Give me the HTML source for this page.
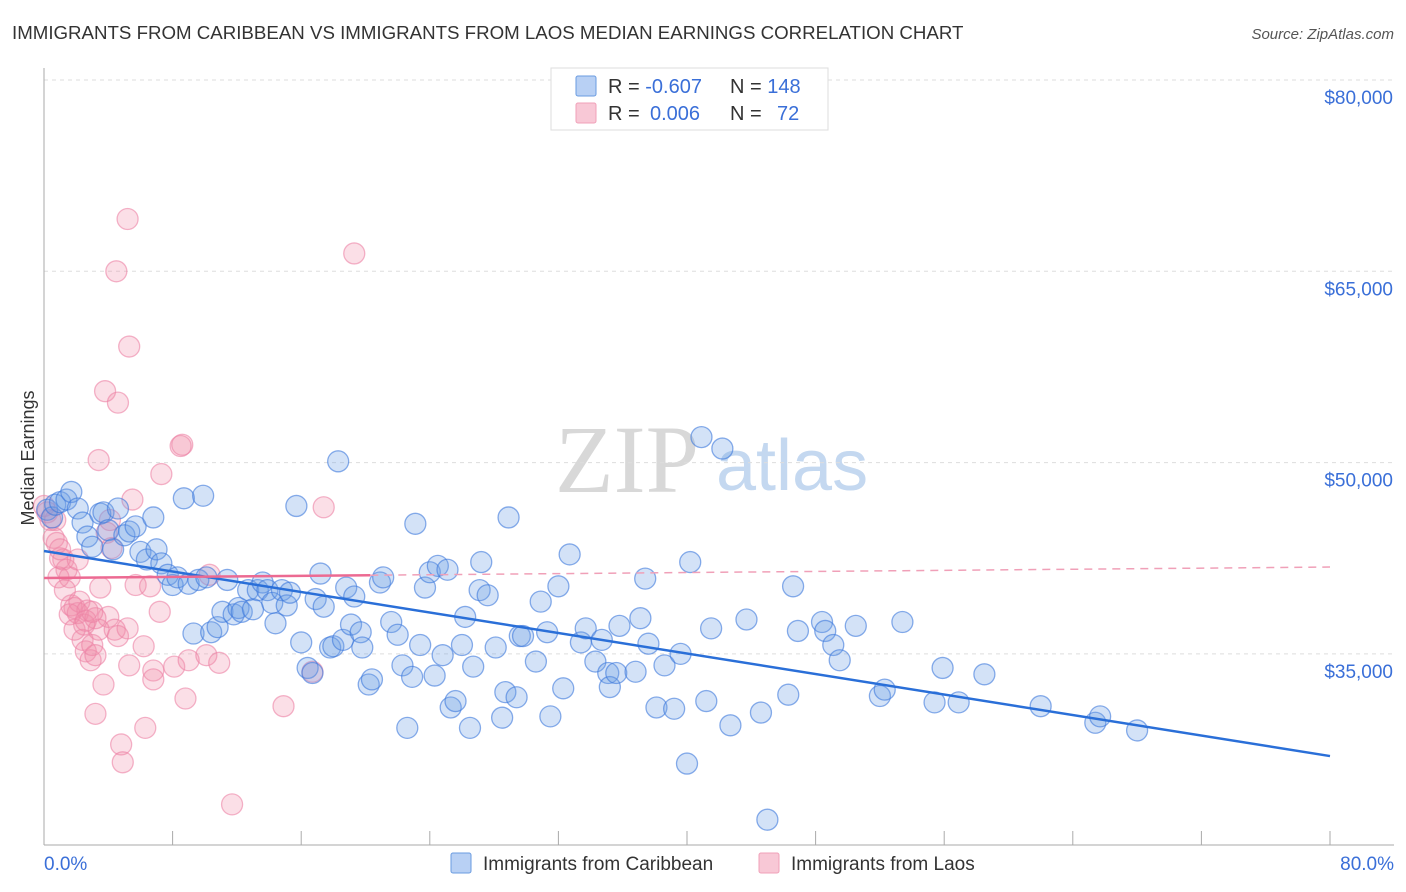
<!DOCTYPE html>
<html><head><meta charset="utf-8"><style>
body{margin:0;background:#fff;font-family:"Liberation Sans",sans-serif;}
svg{display:block}
</style></head><body>
<svg id="chart" width="1406" height="892">
<text x="12" y="39" font-size="18.7" fill="#333">IMMIGRANTS FROM CARIBBEAN VS IMMIGRANTS FROM LAOS MEDIAN EARNINGS CORRELATION CHART</text>
<text x="1394" y="39" font-size="15" fill="#555" font-style="italic" text-anchor="end">Source: ZipAtlas.com</text>
<text x="34" y="458" font-size="18" fill="#333" text-anchor="middle" transform="rotate(-90 34 458)">Median Earnings</text>
<g>
<text x="555" y="492" font-size="96" font-family="Liberation Serif,serif" fill="#d8d8d8">ZIP</text>
<text x="716" y="490" font-size="72" fill="#c4d8f0">atlas</text>
</g>
<g id="grid"></g>
<g id="pts"></g>
<g id="lines"></g>
<g>
<rect x="551" y="68" width="277" height="62" fill="#fff" stroke="#ddd"/>
<rect x="576" y="76" width="20" height="20" fill="#b8d0f4" stroke="#6a9be0" rx="2"/>
<rect x="576" y="103" width="20" height="20" fill="#f8c8d6" stroke="#f0a0b8" rx="2"/>
<text x="608" y="93" font-size="20" fill="#333">R = <tspan fill="#3a6fd8">-0.607</tspan><tspan x="730">N = </tspan><tspan fill="#3a6fd8">148</tspan></text>
<text x="608" y="120" font-size="20" fill="#333">R = <tspan x="650" fill="#3a6fd8">0.006</tspan><tspan x="730">N = </tspan><tspan x="777" fill="#3a6fd8">72</tspan></text>
</g>
<g>
<rect x="451" y="853" width="20" height="20" fill="#b8d0f4" stroke="#6a9be0" rx="2"/>
<text x="483" y="870" font-size="19" fill="#333">Immigrants from Caribbean</text>
<rect x="759" y="853" width="20" height="20" fill="#f8c8d6" stroke="#f0a0b8" rx="2"/>
<text x="791" y="870" font-size="19" fill="#333">Immigrants from Laos</text>
</g>
</svg>
<script>
const yTicks=[80000,65000,50000,35000];
const yTickLabels=["$80,000","$65,000","$50,000","$35,000"];
const xTickLabels=["0.0%","80.0%"];
const blueX=[0.2,0.5,0.7,1.0,1.4,1.7,2.1,2.4,2.7,3.0,3.5,3.7,4.0,4.3,4.6,5.0,5.3,5.7,6.0,6.4,6.8,7.0,7.3,7.7,8.0,8.3,8.7,9.0,9.3,9.6,9.9,10.1,10.4,10.8,11.1,11.4,11.8,12.1,12.3,12.7,13.0,13.3,13.6,13.9,14.2,14.4,14.8,15.1,15.3,15.7,16.0,16.4,16.7,16.9,17.2,17.4,17.8,18.0,18.3,18.6,18.8,19.1,19.3,19.7,19.8,20.2,20.4,20.9,21.1,21.6,22.0,22.3,22.6,22.9,23.1,23.4,23.7,24.0,24.3,24.5,24.8,25.1,25.3,25.6,26.0,26.2,26.5,26.7,27.1,27.2,27.6,28.1,28.5,28.7,28.9,29.4,29.6,29.8,30.6,30.9,31.3,31.5,32.0,32.3,32.7,33.4,33.7,34.3,34.7,35.1,35.2,35.6,35.8,36.8,37.1,37.4,37.6,38.1,38.6,39.2,39.6,40.0,40.2,40.9,41.2,41.5,42.2,42.7,43.7,44.6,45.0,46.3,46.6,46.9,48.4,48.6,49.1,49.5,50.5,52.0,52.3,53.4,55.4,55.9,56.9,58.5,62.0,65.4,65.7,68.0];
const blueY=[46.3,45.7,46.7,46.9,47.1,47.7,46.4,45.3,44.2,43.4,46.0,46.1,44.7,43.2,46.4,44.3,44.6,45.0,43.0,42.4,45.7,43.2,42.1,41.2,40.4,41.0,47.2,40.5,36.6,40.8,47.4,41.0,36.7,37.1,38.3,40.8,38.1,38.6,38.3,40.0,38.5,40.0,40.6,40.0,39.0,37.4,40.0,38.8,39.8,46.6,35.9,33.9,33.5,39.3,41.3,38.7,35.5,35.6,50.1,36.1,40.2,37.3,39.5,36.7,35.5,32.6,33.0,40.6,41.0,37.5,36.5,34.1,29.2,33.2,45.2,35.7,40.2,41.4,33.3,41.9,34.9,41.6,30.8,31.3,35.7,37.9,29.2,34.0,40.0,42.2,39.6,35.5,30.0,32.0,45.7,31.6,36.4,36.4,34.4,39.1,36.7,30.1,40.3,32.3,42.8,35.9,37.0,34.4,36.1,33.5,32.4,33.5,37.2,33.6,37.8,40.9,35.8,30.8,34.1,30.7,35.0,26.4,42.2,52.0,31.3,37.0,51.1,29.4,37.7,30.4,22.0,31.8,40.3,36.8,37.5,36.8,35.7,34.5,37.2,31.7,32.2,37.5,31.2,33.9,31.2,33.4,30.9,29.6,30.1,29.0];
const pinkX=[0.0,0.2,0.4,0.6,0.8,1.0,1.2,1.4,1.6,1.7,1.9,2.1,2.2,2.4,2.5,2.6,2.9,3.0,3.2,3.4,3.5,3.7,3.9,4.0,4.1,4.4,4.6,3.2,2.7,3.2,3.4,3.8,4.2,4.5,4.6,4.8,4.9,5.2,5.3,5.2,5.3,5.5,5.7,6.2,6.3,6.6,6.8,6.8,7.2,7.3,8.1,8.5,8.6,8.8,9.0,10.1,10.3,10.9,11.7,14.9,16.7,17.4,19.3,0.9,1.3,0.7,1.0,1.6,1.9,2.6,3.0,2.1];
const pinkY=[46.6,46.1,45.5,44.1,43.7,42.5,42.4,41.6,41.0,38.8,38.6,38.2,39.1,36.1,37.3,35.2,34.5,35.7,34.9,36.9,40.2,32.6,44.5,37.9,45.5,36.9,36.4,37.8,38.4,30.3,50.2,55.6,43.3,65.0,54.7,27.9,26.5,69.1,59.1,37.0,34.1,47.1,40.4,35.6,29.2,40.3,33.7,33.0,38.3,49.1,34.0,51.3,51.4,31.5,34.5,34.9,41.2,34.3,23.2,30.9,33.6,46.5,66.4,41.0,40.0,45.5,43.2,38.1,36.9,37.6,38.3,42.4];
const blueTrend=[43.07,26.99];
const pinkTrend=[40.95,41.81];
const pinkSolidEnd=20.3;

const NS="http://www.w3.org/2000/svg";
const X0=44,X1=1330,Y80=80,PX_PER_K=191.3/15;
function sx(p){return X0+(p/80)*(X1-X0);}
function sy(v){return Y80+(80-v)*PX_PER_K;}
function mk(tag,attrs,parent){const e=document.createElementNS(NS,tag);for(const k in attrs)e.setAttribute(k,attrs[k]);parent.appendChild(e);return e;}
const grid=document.getElementById('grid');
yTicks.forEach((t,i)=>{
 const y=sy(t/1000);
 const l=mk('line',{x1:X0,x2:1394,y1:y,y2:y,stroke:'#ddd','stroke-dasharray':'4,4'},grid);
 
 
 const tx=mk('text',{x:1393,y:y+24,'font-size':19,fill:'#3a6fd8','text-anchor':'end'},grid);
 tx.textContent=yTickLabels[i];
 
 
});
const ax=mk('line',{x1:X0,x2:X0,y1:68,y2:845,stroke:'#aaa'},grid);


const bx=mk('line',{x1:X0,x2:1394,y1:845,y2:845,stroke:'#aaa'},grid);


for(let i=0;i<=10;i++){const x=sx(i*8);const t=mk('line',{x1:x,x2:x,y1:831,y2:845,stroke:'#aaa'},grid);
 
 }
[[0,'start',X0],[1,'end',1394]].forEach(([i,a,x])=>{const t=mk('text',{x:x,y:870,'font-size':19,fill:'#3a6fd8','text-anchor':a},grid);t.textContent=xTickLabels[i];
 
 });
const pts=document.getElementById('pts');
pinkX.forEach((x,i)=>{const c=mk('circle',{cx:sx(x),cy:sy(pinkY[i]),r:10.5,fill:'rgba(242,140,170,0.28)',stroke:'rgba(236,130,165,0.6)','stroke-width':1.3},pts);
 
 });
blueX.forEach((x,i)=>{const c=mk('circle',{cx:sx(x),cy:sy(blueY[i]),r:10.5,fill:'rgba(110,160,230,0.3)',stroke:'rgba(60,120,220,0.6)','stroke-width':1.3},pts);
 
 });
const lines=document.getElementById('lines');
const bl=mk('line',{x1:sx(0),y1:sy(blueTrend[0]),x2:sx(80),y2:sy(blueTrend[1]),stroke:'#2a6fd8','stroke-width':2.5},lines);


const pv=p=>pinkTrend[0]+(pinkTrend[1]-pinkTrend[0])*p/80;
const pl=mk('line',{x1:sx(0),y1:sy(pv(0)),x2:sx(pinkSolidEnd),y2:sy(pv(pinkSolidEnd)),stroke:'#ec6a92','stroke-width':2.5},lines);


const pd=mk('line',{x1:sx(pinkSolidEnd),y1:sy(pv(pinkSolidEnd)),x2:sx(80),y2:sy(pv(80)),stroke:'#f0a0b8','stroke-width':1.5,'stroke-dasharray':'8,6'},lines);


</script>
</body></html>
